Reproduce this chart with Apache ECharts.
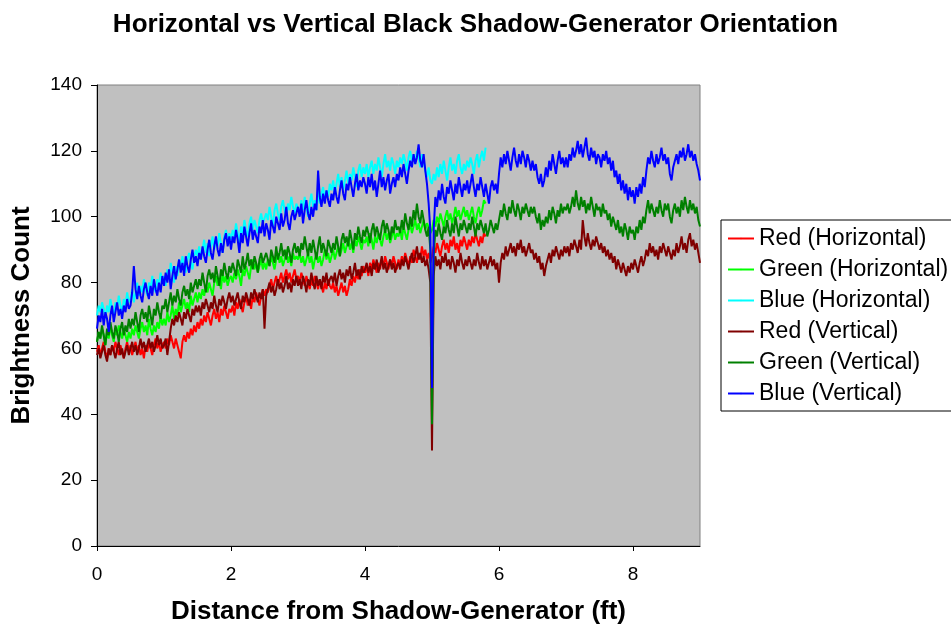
<!DOCTYPE html>
<html>
<head>
<meta charset="utf-8">
<script src="https://cdn.jsdelivr.net/npm/echarts@6/dist/echarts.min.js"></script>
<style>
  html, body { margin: 0; padding: 0; background: #fff; }
  #chart { width: 951px; height: 631px; }
</style>
</head>
<body>
<div id="chart"></div>
<script>
// one reading every 0.025 ft along the distance axis
const STEP = 0.025

const seriesNames = [
  'Red (Horizontal)', 'Green (Horizontal)', 'Blue (Horizontal)',
  'Red (Vertical)', 'Green (Vertical)', 'Blue (Vertical)'
]
const seriesColors = ['#ff0000', '#00ff00', '#00ffff', '#800000', '#008000', '#0000ff']

// horizontal orientation, 0 .. 5.8 ft (each row = 0.5 ft)
const redHorizontal = [
  59, 61, 58, 60, 62, 59, 57, 60, 58, 61, 59, 62, 60, 58, 61, 59, 57, 60, 62, 59,
  61, 58, 60, 62, 59, 61, 58, 60, 57, 61, 59, 62, 60, 58, 61, 63, 60, 62, 59, 61,
  62, 60, 63, 61, 64, 62, 60, 63, 61, 59, 57, 62, 64, 62, 65, 63, 66, 64, 67, 65,
  68, 66, 69, 67, 70, 68, 71, 69, 67, 70, 72, 69, 71, 68, 72, 70, 73, 71, 69, 72,
  71, 73, 70, 74, 72, 75, 73, 71, 74, 76, 73, 75, 72, 76, 74, 77, 75, 73, 76, 78,
  76, 78, 77, 79, 81, 78, 80, 82, 79, 81, 83, 80, 82, 84, 81, 83, 80, 82, 84, 81,
  82, 80, 83, 81, 79, 82, 80, 78, 81, 79, 82, 80, 78, 81, 79, 77, 80, 78, 81, 79,
  78, 80, 77, 79, 76, 78, 80, 77, 79, 76, 78, 81, 79, 82, 80, 83, 81, 84, 82, 85,
  83, 85, 82, 86, 84, 87, 85, 83, 86, 84, 87, 85, 88, 86, 84, 87, 85, 88, 86, 84,
  87, 85, 88, 86, 89, 87, 85, 88, 86, 90, 88, 86, 89, 87, 91, 88, 90, 87, 89, 86,
  88, 91, 89, 92, 90, 88, 91, 93, 90, 92, 89, 93, 91, 94, 90, 92, 89, 93, 91, 94,
  92, 90, 93, 91, 94, 92, 95, 93, 91, 94, 92, 95, 94
]
const greenHorizontal = [
  62, 65, 63, 66, 64, 61, 65, 63, 67, 64, 62, 66, 64, 67, 65, 63, 66, 64, 62, 65,
  63, 66, 64, 67, 65, 63, 66, 68, 65, 67, 64, 69, 66, 64, 67, 65, 68, 66, 70, 67,
  69, 67, 71, 68, 70, 73, 69, 72, 70, 74, 71, 73, 75, 72, 74, 71, 76, 73, 75, 77,
  74, 77, 75, 78, 76, 79, 77, 80, 78, 76, 80, 82, 79, 81, 78, 83, 80, 82, 79, 81,
  82, 80, 83, 81, 84, 82, 79, 84, 82, 85, 83, 81, 85, 87, 84, 86, 83, 85, 87, 84,
  86, 84, 87, 85, 88, 86, 84, 87, 89, 86, 88, 85, 87, 90, 86, 88, 85, 89, 87, 88,
  87, 89, 86, 88, 85, 87, 89, 86, 88, 84, 87, 89, 86, 88, 85, 87, 90, 87, 89, 86,
  88, 90, 87, 89, 91, 88, 90, 92, 89, 91, 93, 90, 92, 89, 93, 91, 94, 92, 90, 93,
  92, 94, 91, 95, 93, 90, 94, 92, 95, 93, 91, 94, 96, 93, 95, 92, 94, 96, 93, 95,
  94, 96, 93, 97, 95, 93, 96, 98, 95, 97, 99, 96, 98, 95, 97, 99, 96, 98, 97, 95,
  96, 99, 97, 100, 98, 101, 99, 97, 100, 102, 99, 101, 98, 100, 103, 100, 102, 99, 101, 103,
  100, 102, 99, 101, 103, 100, 98, 101, 103, 100, 102, 105, 104
]
const blueHorizontal = [
  70, 73, 71, 74, 72, 69, 73, 71, 75, 72, 70, 74, 72, 76, 73, 71, 75, 73, 77, 74,
  75, 78, 74, 77, 80, 76, 79, 77, 81, 78, 76, 80, 78, 82, 79, 77, 81, 79, 83, 80,
  82, 79, 84, 81, 86, 83, 80, 85, 82, 87, 84, 88, 85, 83, 87, 89, 86, 84, 88, 90,
  88, 91, 87, 90, 93, 89, 92, 88, 91, 94, 90, 93, 91, 95, 92, 89, 94, 96, 92, 95,
  93, 96, 94, 98, 95, 92, 97, 95, 99, 96, 94, 98, 100, 96, 99, 97, 95, 99, 101, 98,
  98, 101, 99, 103, 100, 97, 102, 104, 101, 99, 103, 105, 102, 100, 104, 102, 106, 103, 101, 104,
  104, 101, 105, 102, 106, 103, 100, 104, 107, 103, 105, 102, 108, 104, 107, 109, 105, 108, 106, 110,
  108, 111, 107, 110, 113, 109, 112, 108, 111, 114, 110, 113, 111, 115, 112, 109, 114, 116, 112, 115,
  113, 116, 112, 115, 117, 113, 116, 114, 118, 115, 112, 116, 119, 115, 117, 114, 118, 116, 113, 117,
  115, 118, 116, 119, 117, 114, 118, 120, 117, 119, 116, 120, 118, 115, 119, 117, 114, 112, 115, 111,
  110, 113, 111, 115, 112, 116, 113, 117, 114, 111, 115, 118, 114, 116, 113, 117, 119, 115, 113, 116,
  114, 117, 115, 118, 116, 113, 117, 119, 115, 118, 120, 117, 121
]

// vertical orientation, 0 .. 9 ft (each row = 0.5 ft, last value at 9 ft)
const redVertical = [
  58, 60, 57, 59, 61, 58, 56, 60, 58, 61, 59, 57, 60, 62, 58, 60, 57, 59, 61, 58,
  60, 62, 59, 61, 58, 60, 63, 60, 62, 59, 61, 63, 60, 62, 59, 61, 64, 61, 63, 60,
  61, 63, 58, 62, 66, 69, 67, 70, 68, 71, 69, 67, 71, 69, 72, 70, 68, 72, 70, 73,
  71, 73, 70, 74, 72, 75, 73, 71, 74, 72, 76, 73, 71, 75, 73, 76, 74, 72, 75, 77,
  74, 76, 73, 75, 77, 74, 72, 76, 74, 77, 75, 73, 77, 75, 78, 76, 74, 77, 75, 78,
  66, 76, 78, 80, 77, 79, 76, 78, 81, 78, 80, 77, 79, 82, 78, 80, 77, 81, 79, 82,
  79, 81, 78, 82, 80, 77, 81, 79, 83, 80, 78, 82, 79, 81, 78, 82, 80, 83, 79, 81,
  82, 80, 83, 79, 82, 84, 81, 83, 80, 84, 82, 85, 81, 83, 86, 82, 84, 81, 85, 83,
  84, 86, 83, 85, 82, 86, 84, 87, 83, 85, 88, 84, 86, 83, 85, 87, 84, 86, 83, 85,
  86, 84, 87, 85, 88, 86, 84, 87, 89, 86, 88, 91, 87, 89, 86, 88, 85, 87, 84, 80,
  29, 82, 88, 85, 87, 84, 88, 86, 89, 85, 87, 84, 88, 86, 83, 87, 85, 89, 86, 84,
  87, 85, 88, 86, 84, 87, 85, 89, 86, 84, 88, 85, 87, 84, 86, 88, 85, 87, 84, 86,
  80, 86, 89, 87, 91, 88, 90, 92, 89, 91, 88, 92, 90, 93, 89, 91, 88, 90, 92, 89,
  90, 87, 89, 86, 88, 84, 86, 82, 85, 87, 89, 86, 90, 88, 91, 89, 87, 90, 88, 91,
  89, 91, 88, 92, 90, 93, 91, 89, 93, 90, 99, 94, 91, 95, 92, 90, 93, 91, 94, 92,
  90, 92, 89, 91, 88, 90, 87, 89, 86, 88, 84, 87, 85, 83, 86, 84, 82, 85, 83, 86,
  84, 87, 85, 83, 86, 88, 85, 87, 90, 88, 92, 89, 91, 88, 90, 87, 91, 89, 92, 90,
  88, 91, 89, 87, 90, 88, 92, 89, 91, 94, 90, 92, 89, 93, 95, 91, 93, 90, 92, 89,
  86
]
const greenVertical = [
  62, 65, 63, 67, 64, 61, 66, 64, 68, 65, 63, 67, 65, 62, 66, 68, 64, 67, 65, 69,
  66, 69, 67, 71, 68, 65, 70, 72, 69, 71, 68, 73, 70, 67, 72, 70, 74, 71, 69, 73,
  72, 75, 71, 74, 77, 73, 76, 74, 78, 75, 73, 77, 79, 76, 78, 75, 80, 77, 79, 81,
  78, 81, 79, 83, 80, 77, 82, 84, 81, 83, 80, 85, 82, 79, 84, 82, 86, 83, 81, 85,
  83, 86, 84, 82, 87, 85, 83, 88, 84, 86, 89, 85, 87, 84, 88, 86, 83, 87, 89, 86,
  86, 89, 87, 85, 90, 88, 86, 91, 87, 89, 92, 88, 90, 87, 91, 89, 86, 90, 92, 89,
  91, 88, 92, 90, 94, 91, 88, 92, 89, 93, 90, 87, 91, 94, 89, 92, 90, 88, 93, 91,
  89, 92, 90, 94, 91, 88, 93, 95, 92, 94, 91, 96, 93, 90, 95, 93, 97, 94, 92, 96,
  94, 97, 95, 92, 96, 98, 94, 97, 95, 93, 97, 99, 95, 98, 96, 93, 97, 95, 99, 96,
  97, 95, 99, 96, 101, 98, 96, 100, 97, 102, 99, 104, 100, 98, 102, 99, 96, 94, 97, 90,
  37, 88, 96, 94, 98, 95, 93, 97, 95, 99, 96, 94, 98, 95, 100, 97, 94, 98, 96, 99,
  97, 95, 98, 96, 100, 97, 94, 98, 96, 99, 97, 95, 98, 94, 96, 99, 97, 95, 98, 96,
  99, 102, 100, 104, 101, 99, 103, 101, 105, 102, 100, 104, 102, 99, 103, 101, 104, 102, 100, 103,
  101, 103, 100, 98, 101, 96, 99, 97, 100, 98, 102, 99, 103, 101, 98, 102, 100, 104, 101, 103,
  102, 104, 101, 103, 106, 103, 108, 104, 102, 106, 103, 105, 101, 104, 102, 106, 103, 100, 104, 102,
  103, 100, 104, 101, 102, 99, 101, 97, 100, 98, 96, 99, 95, 97, 94, 98, 96, 93, 97, 95,
  96, 93, 97, 95, 99, 96, 100, 98, 102, 105, 101, 104, 102, 100, 103, 101, 105, 102, 100, 104,
  102, 104, 100, 98, 102, 104, 101, 103, 100, 105, 102, 106, 103, 101, 105, 102, 104, 101, 103, 99,
  97
]
const blueVertical = [
  66, 70, 68, 72, 67, 71, 69, 65, 70, 73, 68, 71, 74, 70, 72, 69, 73, 71, 75, 72,
  73, 77, 85, 78, 75, 79, 76, 74, 78, 80, 77, 75, 79, 76, 81, 78, 76, 80, 77, 82,
  79, 83, 80, 84, 78, 82, 85, 81, 84, 87, 83, 86, 82, 88, 85, 83, 87, 90, 86, 88,
  85, 89, 87, 91, 88, 86, 90, 93, 89, 87, 91, 94, 90, 88, 92, 89, 93, 95, 91, 94,
  90, 94, 92, 96, 93, 89, 95, 92, 97, 94, 91, 95, 98, 93, 96, 94, 92, 97, 95, 99,
  94, 98, 96, 93, 99, 97, 95, 100, 98, 96, 101, 97, 99, 103, 98, 96, 100, 102, 99, 101,
  103, 100, 104, 98, 102, 105, 101, 99, 103, 100, 104, 102, 114, 106, 103, 107, 104, 108, 105, 103,
  107, 105, 109, 106, 104, 108, 111, 107, 105, 110, 108, 112, 109, 106, 110, 113, 108, 111, 109, 112,
  110, 107, 112, 109, 113, 108, 111, 106, 110, 114, 109, 112, 108, 111, 113, 107, 110, 112, 109, 113,
  111, 115, 112, 116, 113, 110, 114, 117, 115, 119, 116, 118, 122, 117, 115, 119, 114, 110, 104, 96,
  48, 96, 106, 103, 108, 105, 110, 106, 104, 109, 107, 111, 108, 105, 110, 107, 112, 109, 106, 110,
  108, 111, 107, 110, 113, 109, 106, 110, 108, 112, 109, 106, 110, 107, 104, 109, 111, 108, 110, 107,
  113, 118, 115, 119, 116, 120, 117, 114, 118, 121, 117, 115, 119, 116, 120, 118, 115, 119, 117, 114,
  117, 114, 116, 112, 110, 113, 109, 111, 115, 112, 117, 114, 119, 116, 113, 117, 120, 116, 118, 115,
  118, 115, 119, 117, 121, 118, 120, 123, 119, 122, 118, 121, 124, 119, 117, 121, 118, 120, 116, 119,
  118, 115, 119, 117, 120, 116, 118, 114, 117, 112, 114, 110, 113, 108, 111, 107, 110, 105, 109, 106,
  108, 104, 109, 106, 110, 107, 112, 109, 114, 118, 116, 120, 117, 115, 119, 116, 118, 121, 117, 119,
  116, 118, 113, 111, 115, 117, 119, 116, 120, 118, 121, 117, 119, 122, 118, 120, 117, 119, 116, 114,
  111
]

const seriesValues = [redHorizontal, greenHorizontal, blueHorizontal, redVertical, greenVertical, blueVertical]

const FONT = 'Liberation Sans, Arial, sans-serif'

function toPoints(values) {
  return values.map((v, i) => [+(i * STEP).toFixed(3), v])
}

const chart = echarts.init(document.getElementById('chart'), null, { renderer: 'canvas' })

const option = {
  animation: false,
  backgroundColor: '#ffffff',
  textStyle: { fontFamily: FONT },
  title: {
    text: 'Horizontal vs Vertical Black Shadow-Generator Orientation',
    left: 'center',
    top: 7,
    textStyle: { fontFamily: FONT, fontSize: 26, fontWeight: 'bold', color: '#000' }
  },
  legend: {
    orient: 'vertical',
    left: 721,
    top: 220,
    backgroundColor: '#ffffff',
    borderColor: '#000',
    borderWidth: 1,
    borderRadius: 0,
    padding: [7, 4, 6, 6],
    itemGap: 8,
    itemWidth: 26,
    itemHeight: 2,
    data: seriesNames,
    textStyle: { fontFamily: FONT, fontSize: 23, color: '#000' }
  },
  grid: {
    left: 97,
    top: 85,
    width: 603,
    height: 461,
    show: true,
    backgroundColor: '#c0c0c0',
    borderColor: '#808080',
    borderWidth: 1
  },
  xAxis: {
    type: 'value',
    min: 0,
    max: 9,
    interval: 2,
    name: 'Distance from Shadow-Generator (ft)',
    nameLocation: 'middle',
    nameGap: 53,
    nameTextStyle: { fontFamily: FONT, fontSize: 26, fontWeight: 'bold', color: '#000' },
    axisLine: { show: true, onZero: false, lineStyle: { color: '#000', width: 1 } },
    axisTick: { show: true, inside: false, length: 5, lineStyle: { color: '#000' } },
    axisLabel: { showMaxLabel: false, margin: 19, fontSize: 19, color: '#000', fontFamily: FONT },
    splitLine: { show: false }
  },
  yAxis: {
    type: 'value',
    min: 0,
    max: 140,
    interval: 20,
    name: 'Brightness Count',
    nameLocation: 'middle',
    nameGap: 62,
    nameTextStyle: { fontFamily: FONT, fontSize: 26, fontWeight: 'bold', color: '#000' },
    axisLine: { show: true, lineStyle: { color: '#000', width: 1 } },
    axisTick: { show: true, inside: false, length: 6, lineStyle: { color: '#000' } },
    axisLabel: { margin: 15, fontSize: 19, color: '#000', fontFamily: FONT },
    splitLine: { show: false }
  },
  series: seriesNames.map((name, k) => ({
    name: name,
    type: 'line',
    data: toPoints(seriesValues[k]),
    symbol: 'none',
    showSymbol: false,
    color: seriesColors[k],
    lineStyle: { color: seriesColors[k], width: 2 },
    z: 2 + k
  }))
}

chart.setOption(option)
</script>
</body>
</html>
